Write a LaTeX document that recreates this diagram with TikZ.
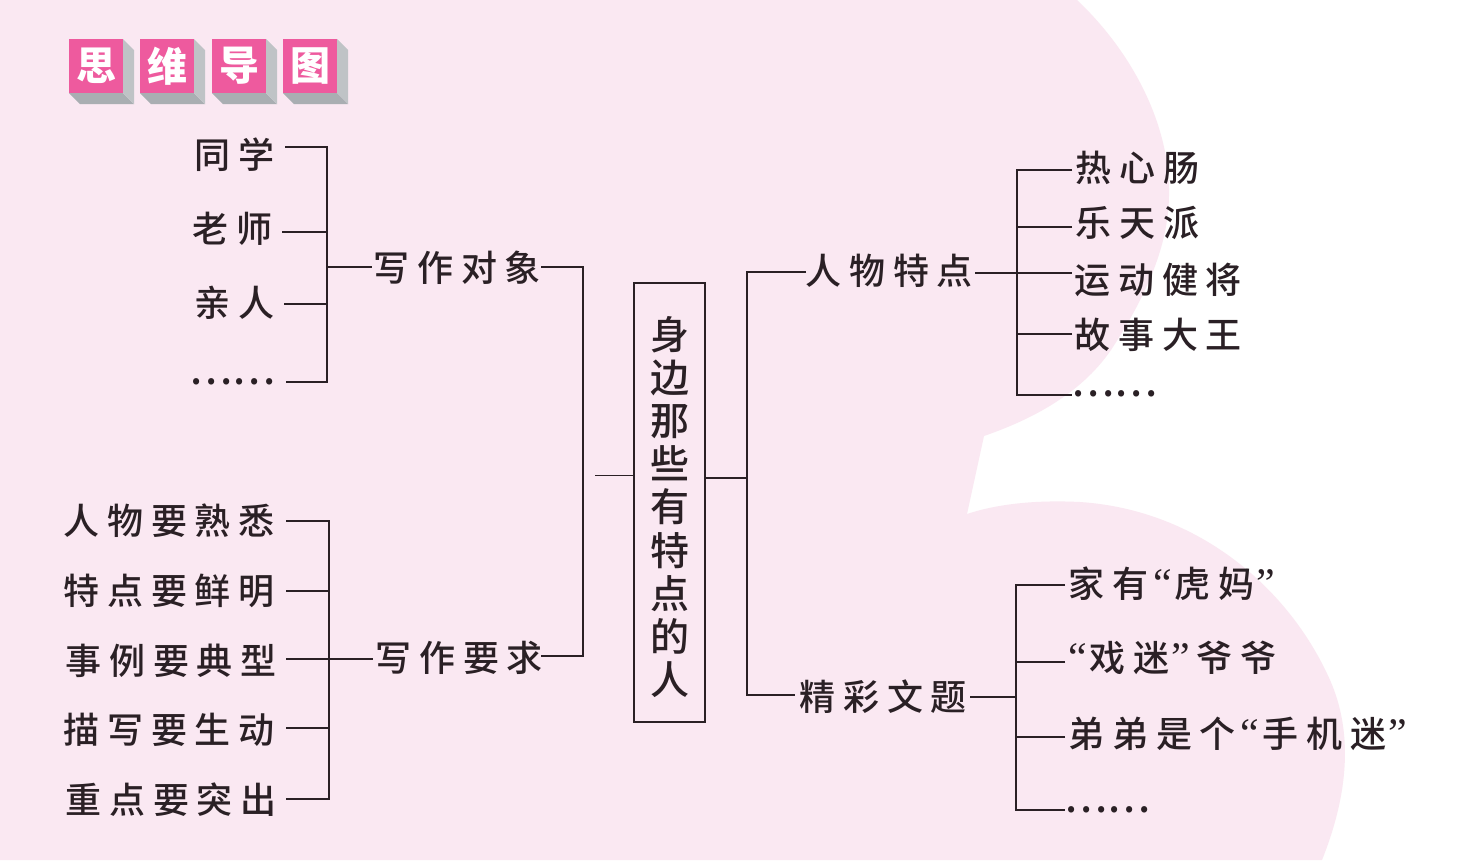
\documentclass[tikz,border=0pt]{standalone}
\usepackage{fontspec}
\setmainfont{Liberation Serif}
\newfontfamily\labfont[LetterSpace=22]{Noto Sans CJK SC Medium}
\newfontfamily\plainfont{Noto Sans CJK SC Medium}
\newfontfamily\tilefont{Noto Sans CJK SC Black}
\newcommand{\qo}{{\kern5pt\fontsize{42}{42}\selectfont\rmfamily “\kern3pt}}
\newcommand{\qc}{{\kern2pt\fontsize{42}{42}\selectfont\rmfamily ”\kern6pt}}
\definecolor{bgpink}{HTML}{FAE8F2}
\definecolor{tilepink}{HTML}{EE5A9E}
\definecolor{sideA}{HTML}{A9AEB2}
\definecolor{sideB}{HTML}{BFC3C6}
\definecolor{ink}{HTML}{2A2025}
\tikzset{
  lab/.style={font=\labfont\fontsize{36}{38}\selectfont,text=ink,inner sep=0pt,anchor=west},
  dots/.style={font=\plainfont\fontsize{40}{40}\selectfont,text=ink,inner sep=0pt,anchor=west},
  link/.style={draw=ink,line width=2pt,line cap=butt,line join=miter},
  thinlink/.style={draw=ink,line width=1pt},
  tile/.style={fill=tilepink,draw=none,minimum size=54pt,inner sep=0pt,text=white,font=\tilefont\fontsize{40}{40}\selectfont}
}
\begin{document}
\begin{tikzpicture}[x=1pt,y=-1pt]
\useasboundingbox (0,0) rectangle (1469,860);
\fill[white] (0,0) rectangle (1469,860);
% pink background
\fill[bgpink] (0,0) -- (1077,0)
  .. controls (1130,50) and (1168,120) .. (1169,189)
  .. controls (1170,240) and (1150,290) .. (1111,350)
  .. controls (1080,395) and (1030,420) .. (984,436)
  -- (967,514)
  .. controls (1000,503) and (1040,500) .. (1080,502)
  .. controls (1200,510) and (1290,590) .. (1330,680)
  .. controls (1352,730) and (1350,790) .. (1322,860)
  -- (0,860) -- cycle;
% title tiles
\foreach \nm/\tx/\ch in {ta/96/思,tb/167/维,tc/239/导,td/310/图}{
  \fill[sideA] (\tx-27,93) -- (\tx-16,104) -- (\tx+38,104) -- (\tx+27,93) -- cycle;
  \fill[sideB] (\tx+27,39) -- (\tx+38,50) -- (\tx+38,104) -- (\tx+27,93) -- cycle;
  \node[tile] (\nm) at (\tx,66) {\ch};
}
% central box
\node[draw=ink,line width=2pt,fill=bgpink,minimum width=71pt,minimum height=439pt,inner sep=0pt] (root) at (669.5,502.5) {};
\node[font=\plainfont\fontsize{39}{43.2}\selectfont,text=ink,align=center,inner sep=0pt] (roottext) at (669.5,507)
 {身\\边\\那\\些\\有\\特\\点\\的\\人};
% labels - upper left
\node[lab] (a1) at (194,155) {同学};
\node[lab] (a2) at (192,229) {老师};
\node[lab] (a3) at (194,303) {亲人};
\node[dots] (a4) at (189,382) {……};
\node[lab] (w1) at (373,268) {写作对象};
% labels - lower left
\node[lab] (b1) at (63,521) {人物要熟悉};
\node[lab] (b2) at (63,591) {特点要鲜明};
\node[lab] (b3) at (65,661) {事例要典型};
\node[lab] (b4) at (63,730) {描写要生动};
\node[lab] (b5) at (65,800) {重点要突出};
\node[lab] (w2) at (375,658) {写作要求};
% labels - upper right
\node[lab] (r1) at (805,271) {人物特点};
\node[lab] (c1) at (1075,168) {热心肠};
\node[lab] (c2) at (1075,223) {乐天派};
\node[lab] (c3) at (1074,280) {运动健将};
\node[lab] (c4) at (1074,335) {故事大王};
\node[dots] (c5) at (1071,394) {……};
% labels - lower right
\node[lab] (r2) at (799,697) {精彩文题};
\node[lab] (d1) at (1068,584) {家有\qo 虎妈\qc};
\node[lab] (d2) at (1063,658) {\qo 戏迷\qc 爷爷};
\node[lab] (d3) at (1068,734) {弟弟是个\qo 手机迷\qc};
\node[dots] (d4) at (1064,810) {……};
% junction coordinates
\coordinate (ja1) at (327,147);
\coordinate (ja2) at (327,232);
\coordinate (ja3) at (327,304);
\coordinate (ja4) at (327,382);
\coordinate (jw1) at (327,267);
\coordinate (jb1) at (329,521);
\coordinate (jb2) at (329,591);
\coordinate (jb3) at (329,659);
\coordinate (jb4) at (329,728);
\coordinate (jb5) at (329,799);
\coordinate (tl1) at (583,267);
\coordinate (tl2) at (583,656);
\coordinate (stub) at (595,475);
\coordinate (tr1) at (747,272);
\coordinate (tr2) at (747,695);
\coordinate (jroot) at (747,478);
\coordinate (jc1) at (1017,170);
\coordinate (jc2) at (1017,227);
\coordinate (jc3) at (1017,273);
\coordinate (jc4) at (1017,334);
\coordinate (jc5) at (1017,395);
\coordinate (jd1) at (1016,585);
\coordinate (jd2) at (1016,662);
\coordinate (jd3) at (1016,737);
\coordinate (jd4) at (1016,810);
\coordinate (jr2) at (1016,697);
% brackets upper left
\draw[link] ([xshift=11pt]a1.east |- ja1) -- (ja1) -- (ja4) -- ([xshift=10pt]a4.east |- ja4);
\draw[link] ([xshift=10pt]a2.east |- ja2) -- (ja2);
\draw[link] ([xshift=10pt]a3.east |- ja3) -- (ja3);
\draw[link] (jw1) -- ([xshift=-1pt]w1.west |- jw1);
\draw[link] (w1.east |- tl1) -- (tl1) -- (tl2) -- ([xshift=-2pt]w2.east |- tl2);
% brackets lower left
\draw[link] ([xshift=11pt]b1.east |- jb1) -- (jb1) -- (jb5) -- ([xshift=9pt]b5.east |- jb5);
\draw[link] ([xshift=11pt]b2.east |- jb2) -- (jb2);
\draw[link] ([xshift=9pt]b3.east |- jb3) -- ([xshift=-2pt]w2.west |- jb3);
\draw[link] ([xshift=11pt]b4.east |- jb4) -- (jb4);
% root connectors
\draw[thinlink] (root.west |- stub) -- (stub);
\draw[link] (root.east |- jroot) -- (jroot);
\draw[link] ([xshift=1pt]r1.west |- tr1) -- (tr1) -- (tr2) -- ([xshift=-4pt]r2.west |- tr2);
% right brackets
\draw[link] ([xshift=-3pt]c1.west |- jc1) -- (jc1) -- (jc5) -- ([xshift=1pt]c5.west |- jc5);
\draw[link] ([xshift=-3pt]c2.west |- jc2) -- (jc2);
\draw[link] ([xshift=2pt]r1.east |- jc3) -- ([xshift=-2pt]c3.west |- jc3);
\draw[link] ([xshift=-2pt]c4.west |- jc4) -- (jc4);
\draw[link] ([xshift=-3pt]d1.west |- jd1) -- (jd1) -- (jd4) -- ([xshift=1pt]d4.west |- jd4);
\draw[link] ([xshift=2pt]d2.west |- jd2) -- (jd2);
\draw[link] ([xshift=-3pt]d3.west |- jd3) -- (jd3);
\draw[link] ([xshift=3pt]r2.east |- jr2) -- (jr2);
\end{tikzpicture}
\end{document}
